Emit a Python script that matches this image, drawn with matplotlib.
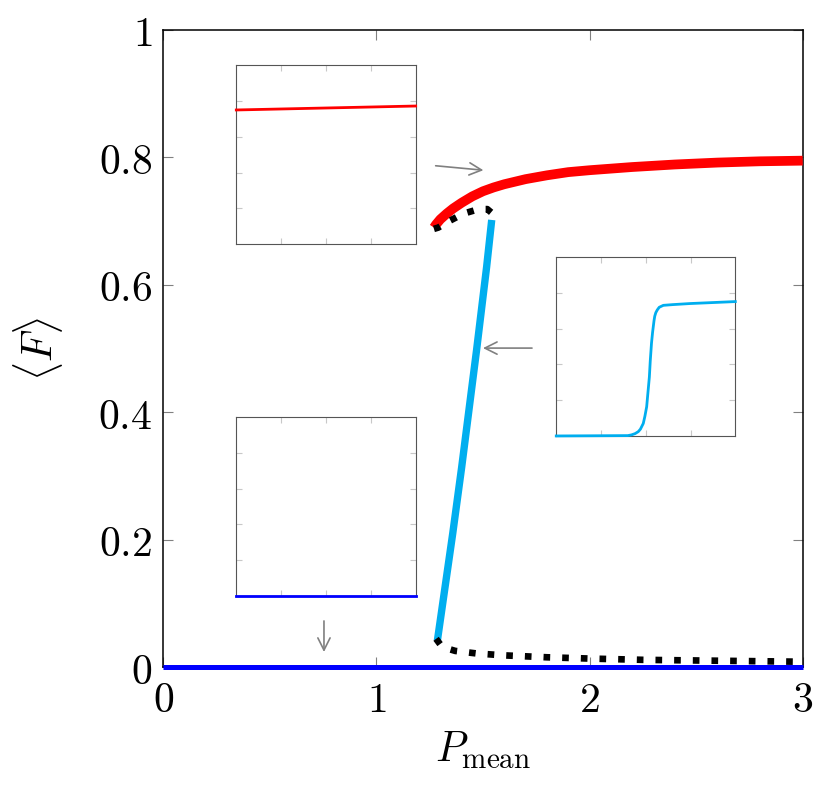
import matplotlib
matplotlib.use('Agg')
import matplotlib.pyplot as plt

plt.rcParams['mathtext.fontset'] = 'cm'
plt.rcParams['font.family'] = ['DejaVu Serif']

# main curves
blue_x = [0.0, 3.0]
blue_y = [0.0, 0.0]

red_x = [1.27, 1.28, 1.30, 1.33, 1.36, 1.40, 1.45, 1.50, 1.55, 1.60, 1.70, 1.80,
         1.90, 2.00, 2.20, 2.40, 2.60, 2.80, 3.00]
red_y = [0.690, 0.695, 0.703, 0.712, 0.720, 0.729, 0.739, 0.747, 0.753, 0.758, 0.766, 0.772,
         0.777, 0.780, 0.785, 0.789, 0.792, 0.794, 0.795]

cyan_x = [1.286, 1.358, 1.400, 1.470, 1.517, 1.541]
cyan_y = [0.042, 0.210, 0.314, 0.498, 0.628, 0.702]

dot_up_x = [1.27, 1.29, 1.31, 1.34, 1.38, 1.42, 1.46, 1.50, 1.52, 1.545]
dot_up_y = [0.688, 0.690, 0.694, 0.700, 0.707, 0.713, 0.717, 0.719, 0.719, 0.712]

dot_lo_x = [1.28, 1.30, 1.33, 1.37, 1.42, 1.47, 1.60, 1.80, 2.00, 2.25, 2.50, 2.75, 3.00]
dot_lo_y = [0.045, 0.036, 0.030, 0.026, 0.024, 0.022, 0.019, 0.016, 0.014, 0.012, 0.011, 0.010, 0.009]

# insets (axes fraction units)
in_red_x = [0.0, 1.0]
in_red_y = [0.749, 0.771]
in_blue_x = [0.0, 1.0]
in_blue_y = [0.0, 0.0]
in_cyan_x = [0.0, 0.40, 0.42, 0.44, 0.458, 0.47, 0.486, 0.495, 0.505, 0.51, 0.52, 0.525,
             0.532, 0.538, 0.546, 0.55, 0.556, 0.564, 0.575, 0.598, 0.65, 0.747, 1.0]
in_cyan_y = [0.0, 0.002, 0.006, 0.013, 0.024, 0.038, 0.07, 0.11, 0.164, 0.22, 0.33, 0.42,
             0.52, 0.58, 0.645, 0.67, 0.69, 0.705, 0.72, 0.731, 0.735, 0.741, 0.752]

xticks = [0, 1, 2, 3]
xtick_labels = ['$0$', '$1$', '$2$', '$3$']
yticks = [0, 0.2, 0.4, 0.6, 0.8, 1.0]
ytick_labels = ['$0$', '$0.2$', '$0.4$', '$0.6$', '$0.8$', '$1$']

fig = plt.figure(figsize=(8.3, 7.97), dpi=100)
ax = fig.add_axes([0.1967, 0.1625, 0.7704, 0.7999])

ax.plot(blue_x, blue_y, color='#0000ff', lw=3.6, clip_on=False, zorder=5, solid_capstyle='butt')
ax.plot(cyan_x, cyan_y, color='#00aeef', lw=5.3, solid_capstyle='butt', zorder=3)
ax.plot(red_x, red_y, color='#ff0000', lw=7.0, solid_capstyle='butt', solid_joinstyle='round', zorder=3)
ax.plot(dot_up_x, dot_up_y, color='black', lw=4.8, linestyle=(0, (1, 1.8)), dash_capstyle='butt', zorder=4)
ax.plot(dot_lo_x, dot_lo_y, color='black', lw=4.8, linestyle=(0, (1, 1.8)), dash_capstyle='butt', zorder=4)

ax.set_xlim(0, 3)
ax.set_ylim(0, 1)
ax.set_xticks(xticks)
ax.set_xticklabels(xtick_labels, fontsize=30)
ax.set_yticks(yticks)
ax.set_yticklabels(ytick_labels, fontsize=30)
ax.tick_params(direction='in', length=7, width=0.8, color='#808080', top=True, right=True, pad=8)
for s in ax.spines.values():
    s.set_linewidth(1.1)
ax.set_xlabel(r'$P_\mathrm{mean}$', fontsize=30, labelpad=6)
ax.set_ylabel(r'$\langle F\rangle$', fontsize=30, labelpad=24)

# arrows
arrow = dict(arrowstyle='->', color='#808080', lw=1.2, mutation_scale=22, shrinkA=0, shrinkB=0)
ax.annotate('', xy=(1.502, 0.780), xytext=(1.278, 0.787), arrowprops=arrow)
ax.annotate('', xy=(1.500, 0.501), xytext=(1.730, 0.501), arrowprops=arrow)
ax.annotate('', xy=(0.754, 0.0243), xytext=(0.754, 0.073), arrowprops=arrow)


def make_inset(rect, x, y, color):
    ia = fig.add_axes(rect)
    ia.plot(x, y, color=color, lw=2.0, clip_on=False, zorder=5, solid_joinstyle='round')
    ia.set_xlim(0, 1)
    ia.set_ylim(0, 1)
    ia.set_xticks([0.25, 0.5, 0.75])
    ia.set_yticks([0.2, 0.4, 0.6, 0.8])
    ia.set_xticklabels([])
    ia.set_yticklabels([])
    ia.tick_params(direction='in', length=4, width=0.8, color='#c8c8c8', top=True, right=True)
    for s in ia.spines.values():
        s.set_linewidth(0.8)
        s.set_color('#555555')
    return ia


make_inset([0.2847, 0.6935, 0.2161, 0.2250], in_red_x, in_red_y, '#ff0000')
make_inset([0.6702, 0.4530, 0.2157, 0.2242], in_cyan_x, in_cyan_y, '#00aeef')
make_inset([0.2847, 0.2526, 0.2161, 0.2238], in_blue_x, in_blue_y, '#0000ff')

fig.savefig('out.png', dpi=100)
